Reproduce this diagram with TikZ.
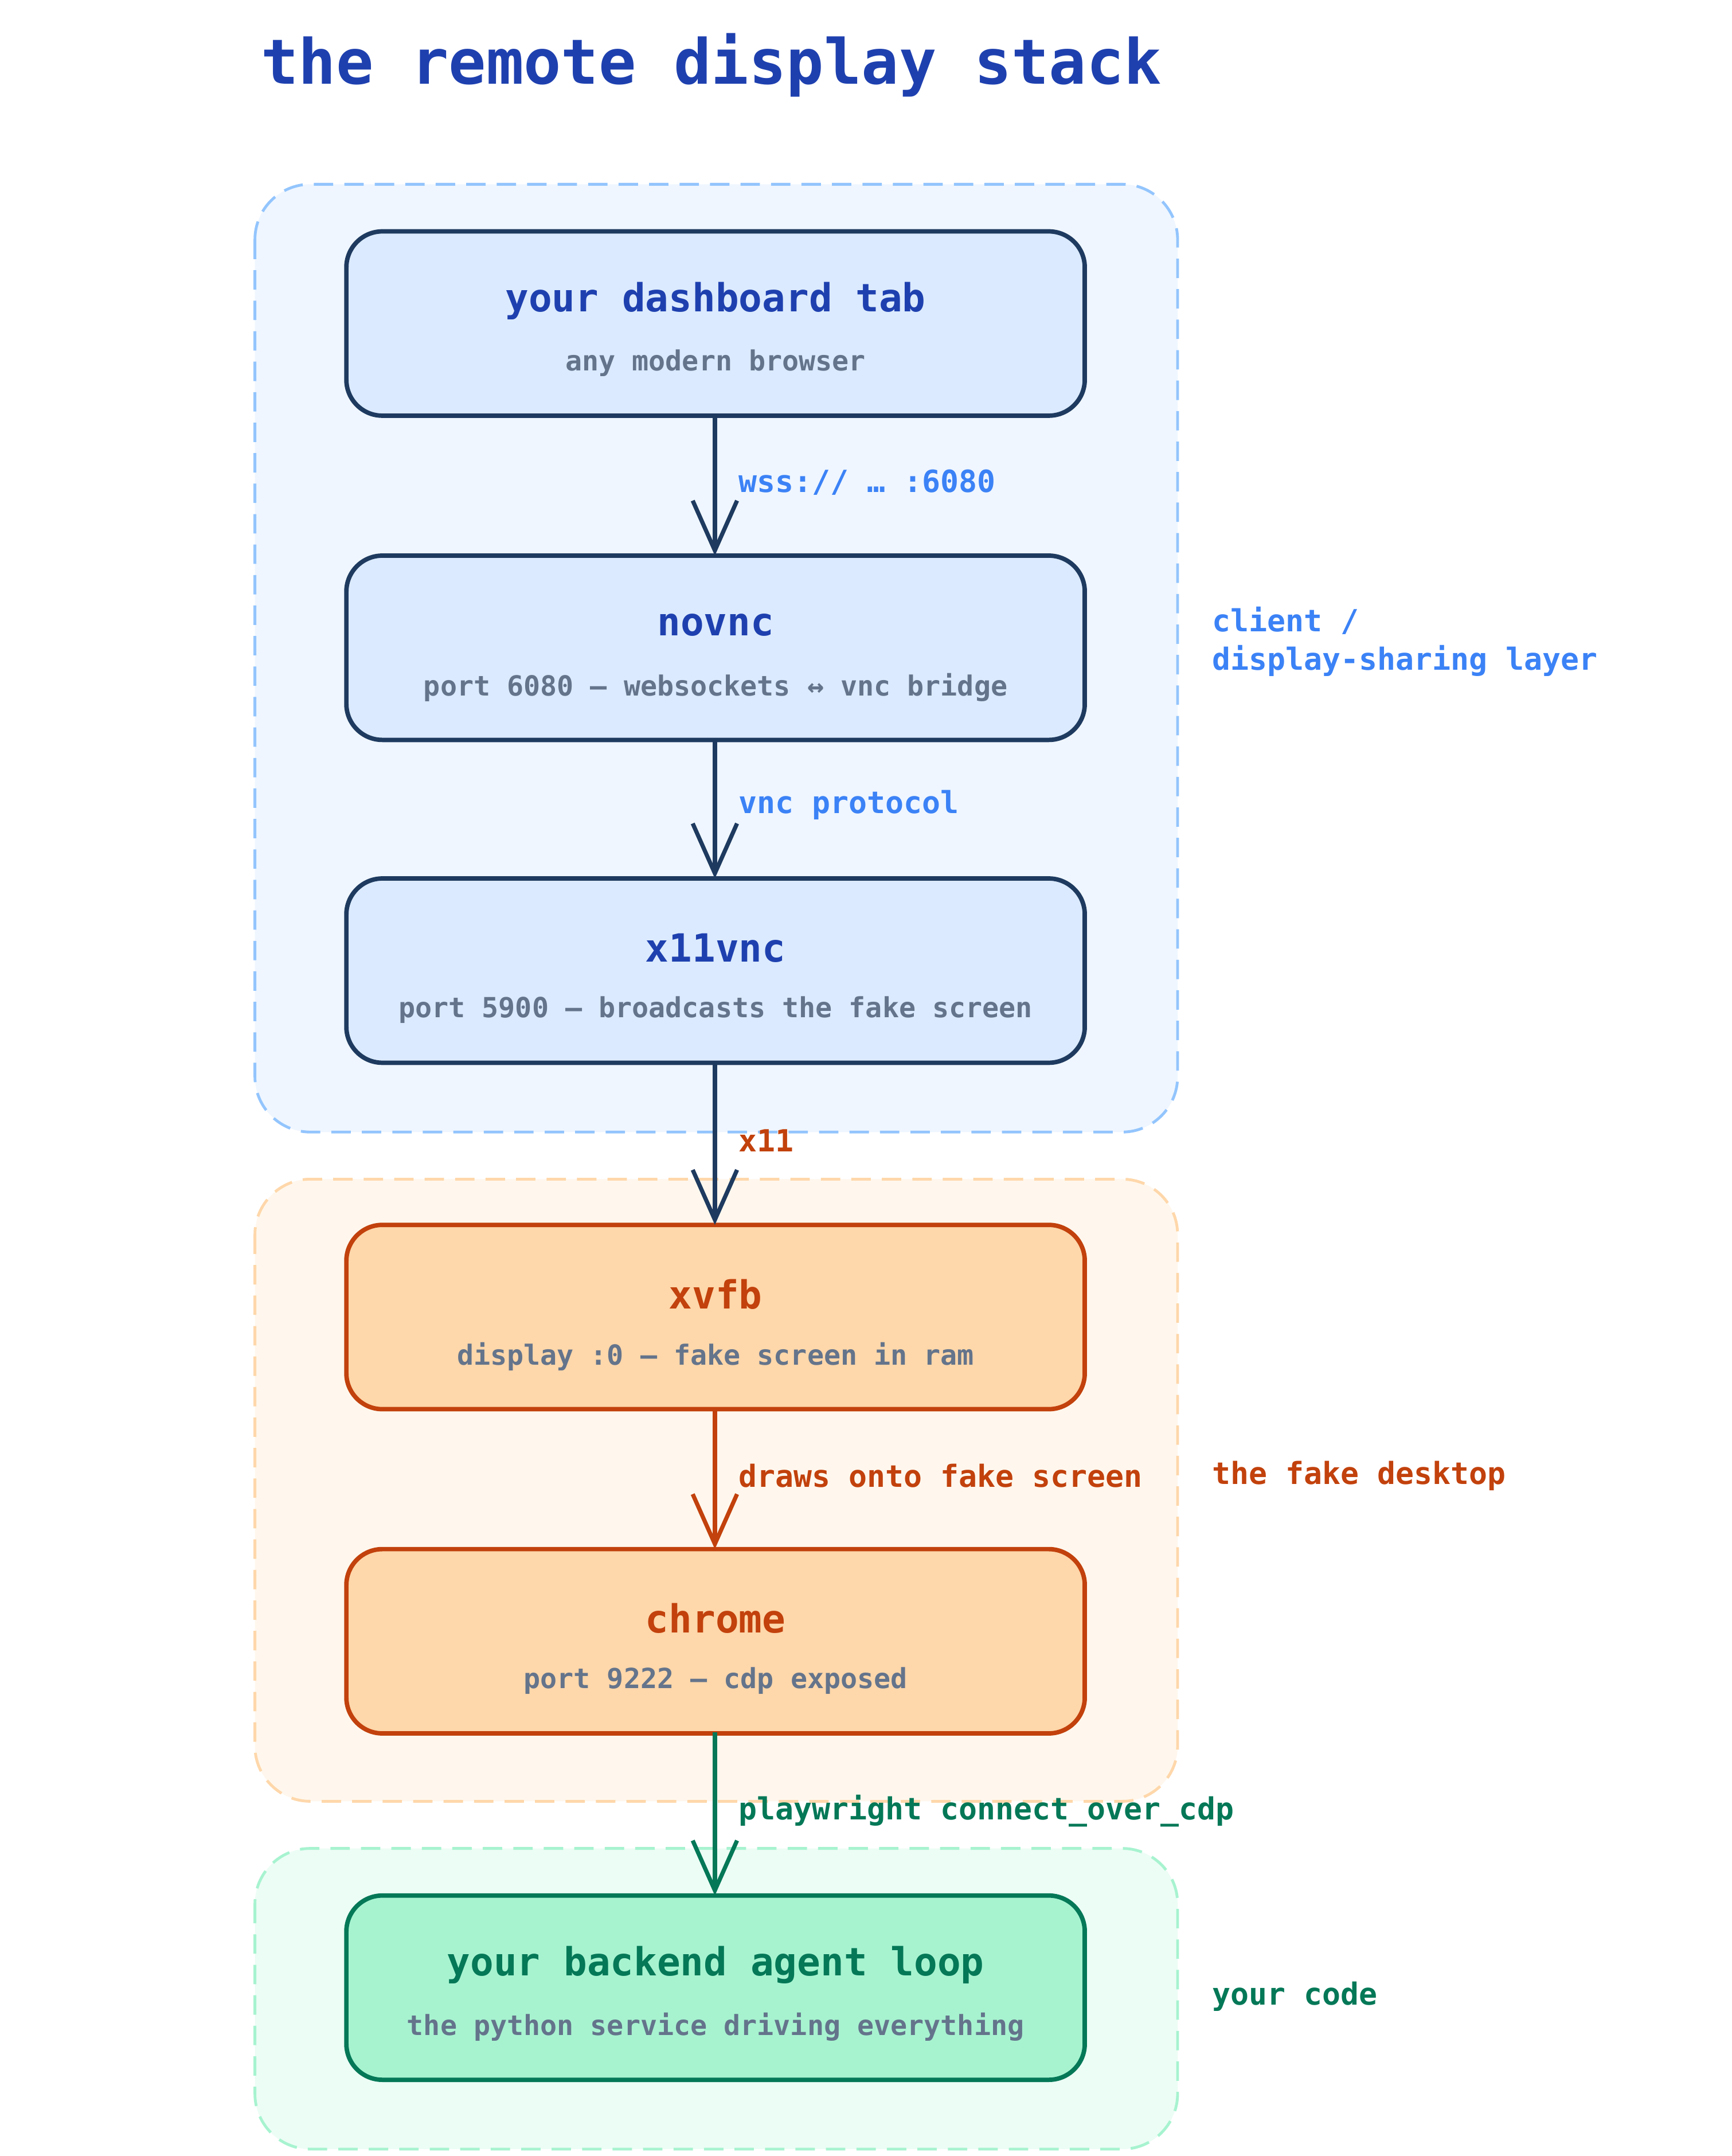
\documentclass[tikz,border=0pt]{standalone}
\usepackage{fontspec}
\setmainfont{DejaVu Sans Mono}
\usetikzlibrary{arrows.meta}
\definecolor{tblue}{HTML}{1E40AF}
\definecolor{navy}{HTML}{1E3A5F}
\definecolor{lblue}{HTML}{3B82F6}
\definecolor{sub}{HTML}{64748B}
\definecolor{org}{HTML}{C2410C}
\definecolor{grn}{HTML}{047857}
\definecolor{bfill}{HTML}{DBEAFE}
\definecolor{ofill}{HTML}{FED7AA}
\definecolor{gfill}{HTML}{A7F3D0}
\begin{document}
\begin{tikzpicture}[x=0.5pt,y=-0.5pt,
 grp/.style={rounded corners=20pt,dashed,dash pattern=on 7pt off 4pt,line width=1pt},
 box/.style={rounded corners=13pt,line width=1.6pt},
 ttl/.style={font=\bfseries\fontsize{14}{16}\selectfont},
 st/.style={font=\bfseries\fontsize{10}{12}\selectfont,text=sub},
 lab/.style={font=\bfseries\fontsize{11}{13}\selectfont,anchor=west},
 arr/.style={line width=1.5pt,-{Straight Barb[length=18pt,width=16pt,line width=1.5pt]}}]
\useasboundingbox[fill=white] (0,0) rectangle (1250,1556);
\node[font=\bfseries\fontsize{22.5}{26}\selectfont,text=tblue,anchor=west,inner sep=0pt] (title) at (188,47) {the remote display stack};
\draw[grp,draw={rgb,255:red,147;green,197;blue,253},fill={rgb,255:red,239;green,246;blue,255}] (184,133) rectangle (850,817);
\draw[grp,draw=ofill,fill={rgb,255:red,255;green,247;blue,237}] (184,851) rectangle (850,1300);
\draw[grp,draw=gfill,fill={rgb,255:red,236;green,253;blue,245}] (184,1334) rectangle (850,1551);
\def\bx#1#2#3#4#5#6#7{%
 \draw[box,draw=#5,fill=#6] (250,#2) rectangle (783,#2+133);
 \node[inner sep=0pt] (#1) at (516.5,#2+66.5) {};
 \node[ttl,text=#7] at (516.5,#2+50) {#3};
 \node[st] at (516.5,#2+95) {#4};}
\bx{a}{167}{your dashboard tab}{any modern browser}{navy}{bfill}{tblue}
\bx{b}{401}{novnc}{port 6080 — websockets ↔ vnc bridge}{navy}{bfill}{tblue}
\bx{c}{634}{x11vnc}{port 5900 — broadcasts the fake screen}{navy}{bfill}{tblue}
\bx{d}{884}{xvfb}{display :0 — fake screen in ram}{org}{ofill}{org}
\bx{e}{1118}{chrome}{port 9222 — cdp exposed}{org}{ofill}{org}
\bx{f}{1368}{your backend agent loop}{the python service driving everything}{grn}{gfill}{grn}
\coordinate (a1) at (516,300); \coordinate (b0) at (516,401);
\coordinate (b1) at (516,533); \coordinate (c0) at (516,634);
\coordinate (c1) at (516,767); \coordinate (d0) at (516,884);
\coordinate (d1) at (516,1017); \coordinate (e0) at (516,1118);
\coordinate (e1) at (516,1250); \coordinate (f0) at (516,1368);
\draw[arr,navy] (a1) -- (b0);
\draw[arr,navy] (b1) -- (c0);
\draw[arr,navy] (c1) -- (d0);
\draw[arr,org] (d1) -- (e0);
\draw[arr,grn] (e1) -- (f0);
\node[lab,text=lblue] (l1) at (526,348) {wss:// … :6080};
\node[lab,text=lblue] (l2) at (526,581) {vnc protocol};
\node[lab,text=org] (l3) at (526,823) {x11};
\node[lab,text=org] (l4) at (526,1065) {draws onto fake screen};
\node[lab,text=grn] (l5) at (526,1307) {playwright connect\_over\_cdp};
\node[lab,text=lblue] (s1) at (868,448) {client /};
\node[lab,text=lblue] (s2) at (868,477) {display-sharing layer};
\node[lab,text=org] (s3) at (868,1065) {the fake desktop};
\node[lab,text=grn] (s4) at (868,1441) {your code};
\end{tikzpicture}
\end{document}
